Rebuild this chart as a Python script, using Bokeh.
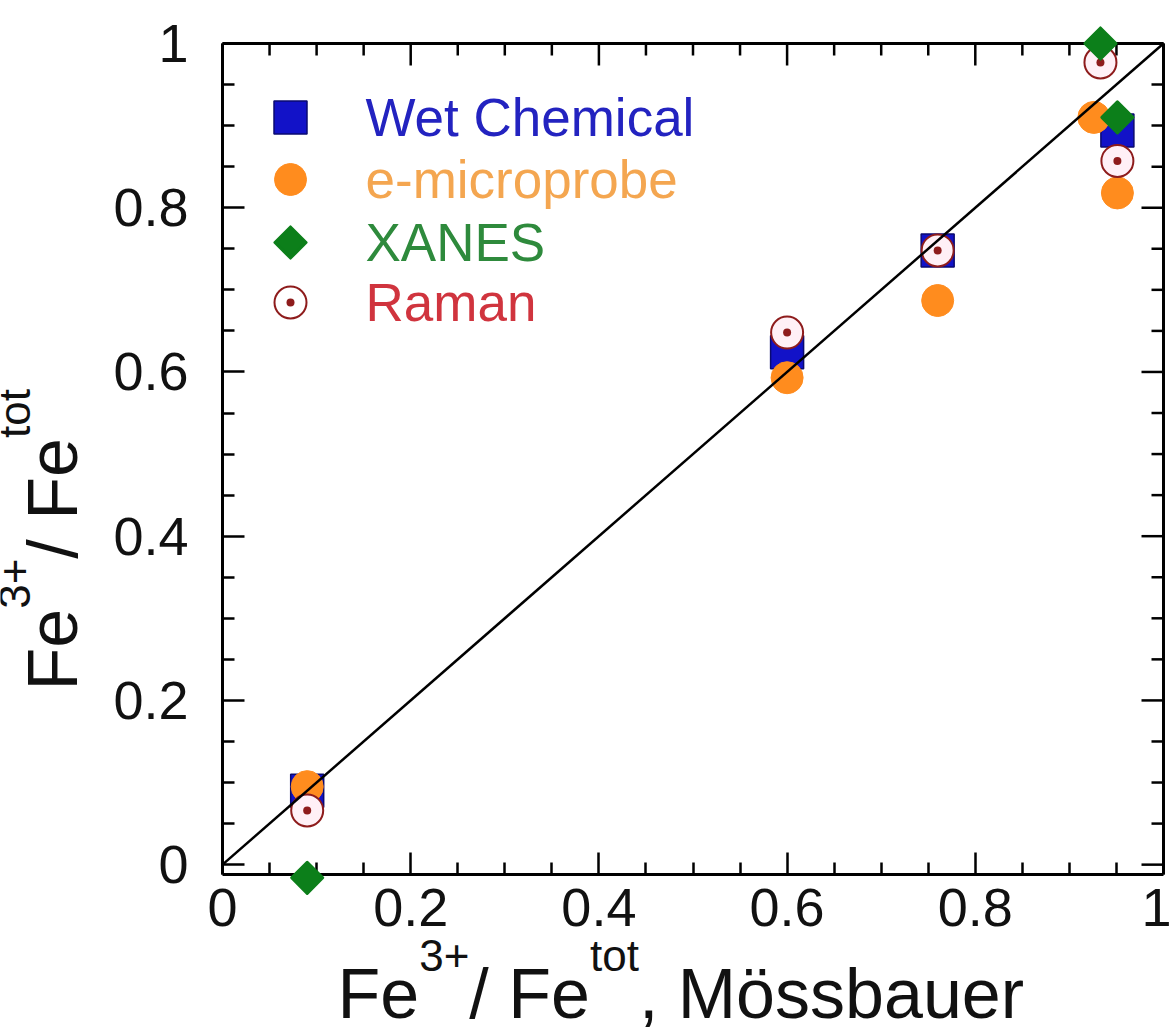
import math
from bokeh.plotting import figure
from bokeh.models import Range1d, Label, FixedTicker
from bokeh.embed import file_html
from bokeh.resources import INLINE

# ---------------- data ----------------
wet_x = [0.09, 0.60, 0.76, 0.951]
wet_y = [0.09, 0.624, 0.748, 0.894]

micro_x = [0.09, 0.60, 0.76, 0.926, 0.951]
micro_y = [0.095, 0.593, 0.687, 0.910, 0.818]

xanes_x = [0.09, 0.933, 0.951]
xanes_y = [-0.016, 1.000, 0.910]

raman_x = [0.09, 0.60, 0.76, 0.933, 0.951]
raman_y = [0.066, 0.648, 0.748, 0.977, 0.857]

diag_x = [0.0, 1.0]
diag_y = [0.0, 1.0]

major_ticks = [0, 0.2, 0.4, 0.6, 0.8, 1]
minor_ticks = [0.05, 0.1, 0.15, 0.25, 0.3, 0.35, 0.45, 0.5, 0.55,
               0.65, 0.7, 0.75, 0.85, 0.9, 0.95]
tick_labels = {0: "0", 0.2: "0.2", 0.4: "0.4", 0.6: "0.6", 0.8: "0.8", 1: "1"}

legend_names = ["Wet Chemical", "e-microprobe", "XANES", "Raman"]

# ---------------- layout ----------------
W, H = 1171, 1029
FL, FR, FT, FB = 222, 1163, 43, 874      # pixel box of the drawn axes
AX0, AX1 = 0.0, 1.0                        # x extent of the axes box
AY0, AY1 = -0.012, 1.0                     # y extent of the axes box
FONT = "Liberation Sans"


def dx(px):
    return AX0 + (px - FL) / (FR - FL) * (AX1 - AX0)


def dy(py):
    return AY0 + (FB - py) / (FB - FT) * (AY1 - AY0)


# the frame covers the whole canvas; axes are pinned to the box edges
p = figure(width=W, height=H,
           x_range=Range1d(dx(0), dx(W)), y_range=Range1d(dy(H), dy(0)),
           output_backend="svg", toolbar_location=None,
           min_border_left=0, min_border_right=0,
           min_border_top=0, min_border_bottom=0)
p.outline_line_color = None
p.xgrid.visible = False
p.ygrid.visible = False
p.background_fill_color = "white"
p.border_fill_color = "white"

ticker = FixedTicker(ticks=major_ticks, minor_ticks=minor_ticks)


def style_axis(ax, standoff, loc, bounds):
    ax.fixed_location = loc
    ax.bounds = bounds
    ax.ticker = ticker
    ax.axis_line_width = 3
    ax.axis_line_color = "black"
    ax.major_tick_line_width = 2.5
    ax.minor_tick_line_width = 2.5
    ax.major_tick_in = 22
    ax.major_tick_out = 0
    ax.minor_tick_in = 12
    ax.minor_tick_out = 0
    ax.major_label_overrides = tick_labels
    ax.major_label_text_font = FONT
    ax.major_label_text_color = "#111111"
    ax.major_label_text_font_size = "54px"
    ax.major_label_standoff = standoff


style_axis(p.xaxis[0], 14, AY0, (AX0, AX1))
style_axis(p.yaxis[0], 34, AX0, (AY0, AY1))

# top and right edges of the box with inward mirror ticks
p.segment(x0=[AX0], y0=[AY1], x1=[AX1], y1=[AY1], line_color="black", line_width=3)
p.segment(x0=[AX1], y0=[AY0], x1=[AX1], y1=[AY1], line_color="black", line_width=3)
p.ray(x=major_ticks, y=[AY1] * len(major_ticks), length=22, length_units="screen",
      angle=-math.pi / 2, line_color="black", line_width=2.5)
p.ray(x=minor_ticks, y=[AY1] * len(minor_ticks), length=12, length_units="screen",
      angle=-math.pi / 2, line_color="black", line_width=2.5)
p.ray(x=[AX1] * len(major_ticks), y=major_ticks, length=22, length_units="screen",
      angle=math.pi, line_color="black", line_width=2.5)
p.ray(x=[AX1] * len(minor_ticks), y=minor_ticks, length=12, length_units="screen",
      angle=math.pi, line_color="black", line_width=2.5)

# ---------------- data marks ----------------
p.scatter(wet_x, wet_y, marker="square", size=33, fill_color="#1212C8",
          line_color="#0A0A70", line_width=1.5)
p.scatter(micro_x, micro_y, marker="circle", size=32, fill_color="#FF8C1E",
          line_color="#FF8C1E", line_width=1)
p.scatter(xanes_x, xanes_y, marker="square", angle=math.pi / 4, size=22,
          fill_color="#0C7F1A", line_color="#0C7F1A", line_width=3,
          line_join="round", level="overlay")
p.scatter(raman_x, raman_y, marker="circle_dot", size=32, fill_color="#FFF0F6",
          line_color="#8E1C1C", line_width=2)

p.line(diag_x, diag_y, line_color="black", line_width=2.5)

# ---------------- legend (manual, coloured labels) ----------------
leg_marker_x = dx(290)
leg_text_x = dx(365)
leg_rows = [dy(117), dy(179), dy(242), dy(302)]
text_colors = ["#2323C0", "#F4A650", "#2E8A3C", "#D0343E"]

p.scatter([leg_marker_x], [leg_rows[0]], marker="square", size=33,
          fill_color="#1212C8", line_color="#0A0A70", line_width=1.5)
p.scatter([leg_marker_x], [leg_rows[1]], marker="circle", size=32,
          fill_color="#FF8C1E", line_color="#FF8C1E")
p.scatter([leg_marker_x], [leg_rows[2]], marker="square", angle=math.pi / 4,
          size=22, fill_color="#0C7F1A", line_color="#0C7F1A", line_width=3,
          line_join="round")
p.scatter([leg_marker_x], [leg_rows[3]], marker="circle_dot", size=32,
          fill_color="white", line_color="#8E1C1C", line_width=2)

for name, yy, col in zip(legend_names, leg_rows, text_colors):
    p.add_layout(Label(x=leg_text_x, y=yy, text=name, text_font=FONT,
                       text_font_size="53px", text_color=col,
                       text_baseline="middle", text_align="left"))

# ---------------- axis titles (with superscripts) ----------------
MAIN = 70
SUP = 44
w_Fe = 1.167 * MAIN
w_3p = (0.556 + 0.584) * SUP
w_slashFe = (0.278 + 0.278 + 1.167) * MAIN
w_tot = (0.278 + 0.556 + 0.278) * SUP
raise_px = 38

# x title: vertical centres of the main text and of the superscripts
bx = 337
mid = 993
parts = [("Fe", bx, mid, MAIN),
         ("3+", bx + w_Fe, mid - raise_px, SUP),
         ("/ Fe", bx + w_Fe + w_3p, mid, MAIN),
         ("tot", bx + w_Fe + w_3p + w_slashFe, mid - raise_px, SUP),
         (", Mössbauer", bx + w_Fe + w_3p + w_slashFe + w_tot, mid, MAIN)]
for t, px, py, fs in parts:
    p.add_layout(Label(x=dx(px), y=dy(py), text=t, text_font=FONT,
                       text_font_size=f"{fs}px", text_color="#111111",
                       text_baseline="middle", text_align="left"))

# y title (rotated): horizontal centres
by = 690
midx = 52
yparts = [("Fe", by, midx, MAIN),
          ("3+", by - w_Fe, midx - raise_px, SUP),
          ("/ Fe", by - w_Fe - w_3p, midx, MAIN),
          ("tot", by - w_Fe - w_3p - w_slashFe, midx - raise_px, SUP)]
for t, py, px, fs in yparts:
    p.add_layout(Label(x=dx(px), y=dy(py), text=t, text_font=FONT,
                       text_font_size=f"{fs}px", text_color="#111111",
                       text_baseline="middle", text_align="left",
                       angle=math.pi / 2))

open("out.html", "w").write(file_html(p, INLINE))
